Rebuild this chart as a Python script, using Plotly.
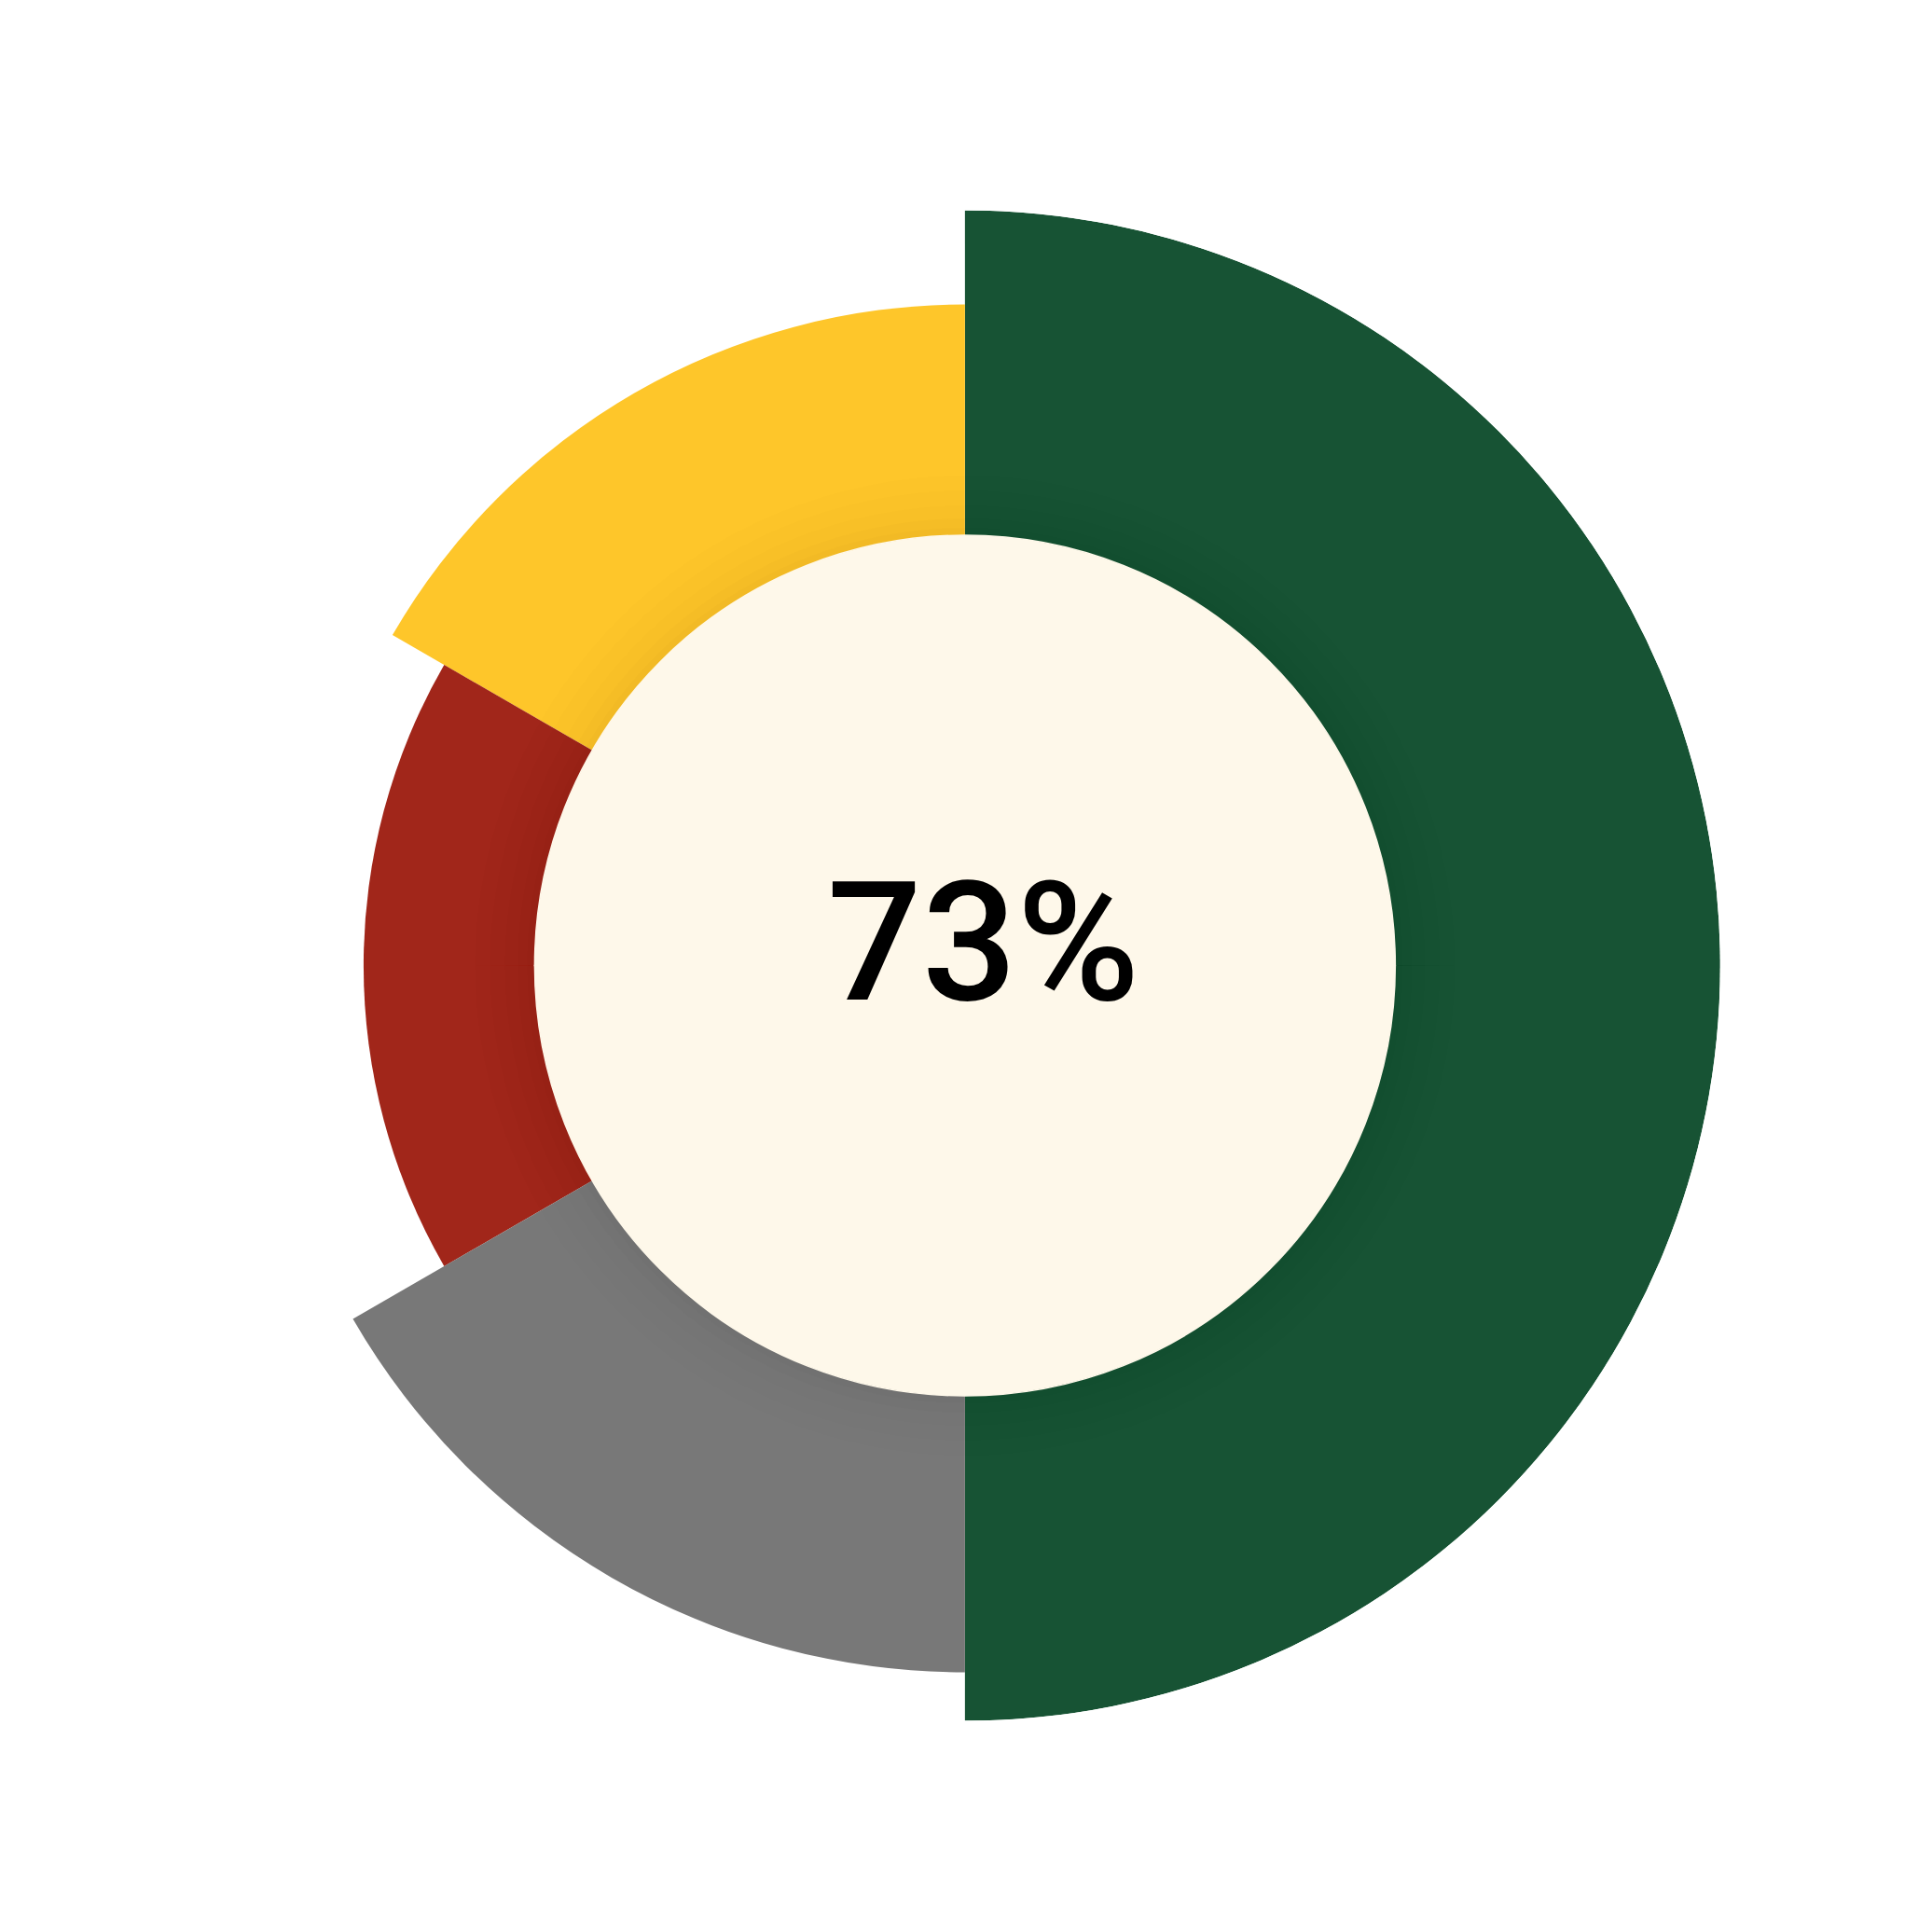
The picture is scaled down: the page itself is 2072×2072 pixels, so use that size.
import plotly.graph_objects as go

# Data
categories = ["Green", "Yellow", "Red", "Gray"]
theta_centers = [0, 120, 180, 240]
theta_widths = [180, 60, 60, 60]
outer_radius = [810, 709, 645, 758]
colors = ["#175334", "#FEC62A", "#A1261A", "#787878"]
inner_radius = 461.5
center_label = "73%"

# soft shadow rings around the inner disk (extra radius, opacity)
shadow_extra = [64, 48, 32, 18, 8]
shadow_alpha = [0.007, 0.008, 0.009, 0.01, 0.01]

fig = go.Figure()
fig.add_trace(go.Barpolar(
    theta=theta_centers, width=theta_widths, r=outer_radius, base=0,
    marker=dict(color=colors, line=dict(width=0)),
    hoverinfo="skip", name="segments",
))
for ex, a in zip(shadow_extra, shadow_alpha):
    fig.add_trace(go.Barpolar(
        theta=[90, 270], width=[180, 180],
        r=[inner_radius + ex, inner_radius + ex], base=0,
        marker=dict(color=f"rgba(0,0,0,{a})", line=dict(width=0)),
        hoverinfo="skip", name="shadow",
    ))
fig.add_trace(go.Barpolar(
    theta=[90, 270], width=[180, 180], r=[inner_radius, inner_radius], base=0,
    marker=dict(color="#FEF8EA", line=dict(width=1.5, color="#FEF8EA")),
    hoverinfo="skip", name="center",
))

fig.update_layout(
    width=2072, height=2072,
    margin=dict(l=0, r=0, t=0, b=0),
    paper_bgcolor="white",
    showlegend=False,
    polar=dict(
        domain=dict(x=[0.1047, 0.8865], y=[0.1132, 0.8950]),
        bgcolor="rgba(0,0,0,0)",
        bargap=0,
        radialaxis=dict(range=[0, 810], visible=False, showgrid=False),
        angularaxis=dict(visible=False, showgrid=False, rotation=0, direction="counterclockwise"),
    ),
    annotations=[dict(
        text=center_label, x=0.5053, y=0.5158, xref="paper", yref="paper",
        showarrow=False, xanchor="center", yanchor="middle",
        font=dict(family="Roboto", size=179, color="#000000", weight=500),
    )],
)

fig.write_html("out.html")
